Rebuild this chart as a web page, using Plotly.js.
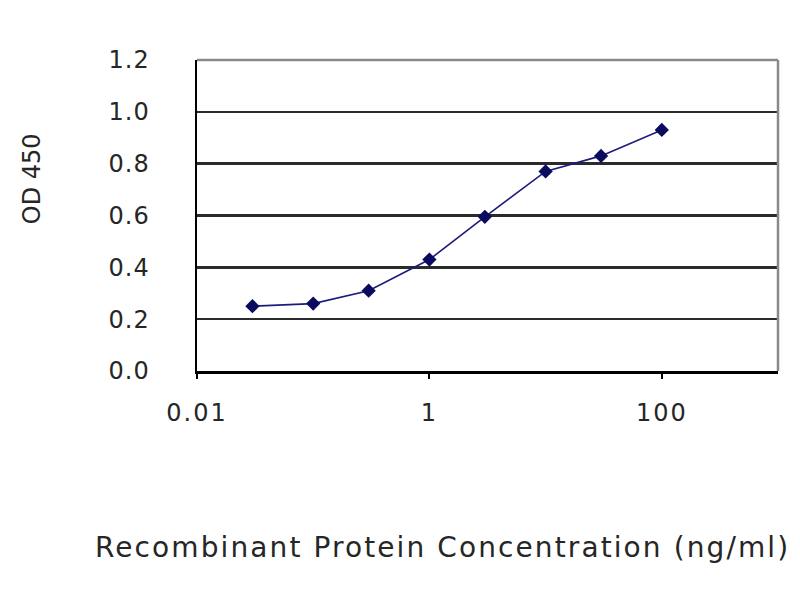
<!DOCTYPE html>
<html>
<head>
<meta charset="utf-8">
<script src="https://cdn.plot.ly/plotly-3.0.1.min.js"></script>
<style>
html,body{margin:0;padding:0;background:#fff;}
#chart{width:800px;height:600px;}
#chart g.annotation[data-index="1"] text{letter-spacing:2.1px;}
#chart .xtick text{letter-spacing:2px;}
#chart .ytick text{letter-spacing:1px;}
</style>
</head>
<body>
<div id="chart"></div>
<script>
// Data
const concentration = [0.03, 0.1, 0.3, 1, 3, 10, 30, 100];
const od450 = [0.25, 0.26, 0.31, 0.43, 0.595, 0.77, 0.83, 0.93];
const xTickVals = [0.01, 1, 100];
const xTickText = ["0.01", "1", "100"];
const yTickVals = [0, 0.2, 0.4, 0.6, 0.8, 1.0, 1.2];
const yTickText = ["0.0", "0.2", "0.4", "0.6", "0.8", "1.0", "1.2"];
const xTitle = "Recombinant Protein Concentration (ng/ml)";
const yTitle = "OD 450";

const font = "DejaVu Sans, Liberation Sans, Arial, sans-serif";
const txtColor = "#262626";

const trace = {
  x: concentration,
  y: od450,
  type: "scatter",
  mode: "lines+markers",
  line: {color: "#1c1c7a", width: 1.6},
  marker: {symbol: "diamond", size: 11, color: "#0a0a5e"},
  showlegend: false,
  hoverinfo: "skip"
};

const layout = {
  width: 800,
  height: 600,
  margin: {l: 197, r: 22, t: 60, b: 229},
  paper_bgcolor: "#ffffff",
  plot_bgcolor: "#ffffff",
  font: {family: font, color: txtColor, size: 24},
  xaxis: {
    type: "log",
    range: [-2, 3],
    tickvals: xTickVals,
    ticktext: xTickText,
    ticks: "outside",
    ticklen: 5,
    tickwidth: 2,
    tickcolor: "#000",
    ticklabelstandoff: 14,
    showgrid: false,
    zeroline: false,
    showline: true,
    linecolor: "#000",
    linewidth: 2.5,
    tickfont: {family: font, size: 24, color: txtColor}
  },
  yaxis: {
    range: [0, 1.2],
    tickvals: yTickVals,
    ticktext: yTickText,
    ticks: "",
    ticklabelstandoff: 40,
    showgrid: true,
    gridcolor: "#2b2b2b",
    gridwidth: 2.5,
    zeroline: false,
    showline: true,
    linecolor: "#000",
    linewidth: 2.5,
    tickfont: {family: font, size: 24, color: txtColor}
  },
  shapes: [
    {type: "line", xref: "paper", yref: "paper", x0: 0, x1: 1, y0: 1, y1: 1,
     line: {color: "#8a8a8a", width: 2.5}, layer: "above"},
    {type: "line", xref: "paper", yref: "paper", x0: 1, x1: 1, y0: 0, y1: 1,
     line: {color: "#8a8a8a", width: 2.5}, layer: "above"}
  ],
  annotations: [
    {text: yTitle, xref: "paper", yref: "paper", x: -0.284, y: 0.62,
     xanchor: "center", yanchor: "middle", textangle: -90, showarrow: false,
     font: {family: font, size: 24, color: txtColor}},
    {text: xTitle, xref: "paper", yref: "paper", x: -0.105, y: -0.569,
     xanchor: "left", yanchor: "middle", showarrow: false,
     font: {family: font, size: 28, color: txtColor}}
  ]
};

Plotly.newPlot("chart", [trace], layout, {displayModeBar: false, staticPlot: true});
</script>
</body>
</html>
